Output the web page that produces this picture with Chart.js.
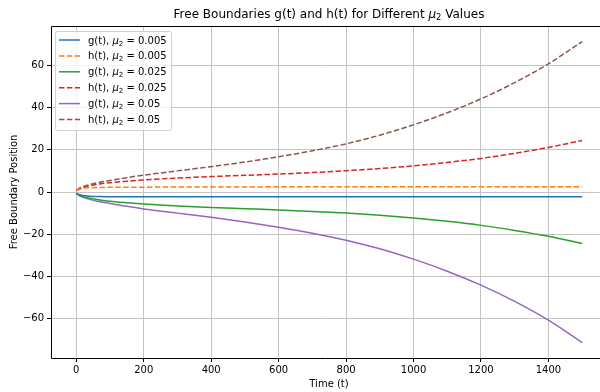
<!DOCTYPE html>
<html>
<head>
<meta charset="utf-8">
<script src="https://cdn.jsdelivr.net/npm/chart.js@4.4.1/dist/chart.umd.min.js"></script>
<style>
  html, body { margin: 0; padding: 0; background: #fff; }
  #wrap { width: 600px; height: 392px; }
</style>
</head>
<body>
<div id="wrap"><canvas id="boundaryChart" width="600" height="392"></canvas></div>
<script>
// Datos
const tiempos = [0, 5, 10, 20, 40, 70, 100, 150, 200, 300, 400, 500, 600, 700, 800, 900, 1000, 1100, 1200, 1300, 1400, 1500];

const g_005 = [-0.6, -1.0, -1.3, -1.7, -2.0, -2.15, -2.2, -2.25, -2.25, -2.3, -2.3, -2.3, -2.3, -2.3, -2.3, -2.3, -2.3, -2.3, -2.3, -2.3, -2.3, -2.3];
const h_005 = [0.6, 1.0, 1.3, 1.7, 2.0, 2.15, 2.2, 2.25, 2.3, 2.35, 2.4, 2.4, 2.45, 2.45, 2.5, 2.5, 2.5, 2.5, 2.5, 2.5, 2.5, 2.5];
const g_025 = [-0.7, -1.1, -1.6, -2.2, -3.0, -3.8, -4.4, -5.1, -5.7, -6.6, -7.3, -7.9, -8.5, -9.2, -10.0, -11.0, -12.3, -13.9, -15.8, -18.2, -21.0, -24.4];
const h_025 = [0.7, 1.1, 1.6, 2.2, 3.0, 3.8, 4.4, 5.1, 5.7, 6.6, 7.3, 7.9, 8.5, 9.2, 10.1, 11.1, 12.4, 14.0, 15.9, 18.3, 21.1, 24.4];
const g_05 = [-0.8, -1.2, -1.8, -2.5, -3.5, -4.6, -5.4, -6.8, -8.0, -10.0, -12.0, -14.2, -16.7, -19.5, -22.8, -26.9, -31.8, -37.5, -44.1, -51.8, -60.7, -71.3];
const h_05 = [0.8, 1.2, 1.8, 2.5, 3.5, 4.6, 5.4, 6.8, 8.0, 10.0, 12.0, 14.2, 16.7, 19.5, 22.8, 26.9, 31.8, 37.5, 44.1, 51.8, 60.7, 71.2];

const ticksX = [0, 200, 400, 600, 800, 1000, 1200, 1400];
const ticksY = [-60, -40, -20, 0, 20, 40, 60];

const series = [
    { nombre: 'g(t)', mu: '0.005', valores: g_005, color: '#1f77b4', dash: [] },
    { nombre: 'h(t)', mu: '0.005', valores: h_005, color: '#ff7f0e', dash: [5.5, 2.4] },
    { nombre: 'g(t)', mu: '0.025', valores: g_025, color: '#2ca02c', dash: [] },
    { nombre: 'h(t)', mu: '0.025', valores: h_025, color: '#d62728', dash: [5.5, 2.4] },
    { nombre: 'g(t)', mu: '0.05', valores: g_05, color: '#9467bd', dash: [] },
    { nombre: 'h(t)', mu: '0.05', valores: h_05, color: '#8c564b', dash: [5.5, 2.4] }
];

const FUENTE = '"DejaVu Sans", sans-serif';

// Dibuja texto con mu en cursiva y subindice 2
function textoMath(ctx, partes, x, y, size, align) {
    const medir = p => {
        ctx.font = (p.it ? 'italic ' : '') + (p.sub ? size * 0.7 : size) + 'px ' + FUENTE;
        return ctx.measureText(p.t).width;
    };
    const total = partes.reduce((s, p) => s + medir(p), 0);
    let cx = align === 'center' ? x - total / 2 : x;
    ctx.textBaseline = 'alphabetic';
    ctx.textAlign = 'left';
    partes.forEach(p => {
        const w = medir(p);
        ctx.fillText(p.t, cx, p.sub ? y + size * 0.2 : y);
        cx += w;
    });
}

const pluginMpl = {
    id: 'pluginMpl',
    afterDraw(chart) {
        const { ctx, chartArea: a } = chart;
        ctx.save();
        // ejes
        ctx.strokeStyle = '#000';
        ctx.lineWidth = 1;
        ctx.beginPath();
        ctx.moveTo(600, a.top + 0.5);
        ctx.lineTo(a.left + 0.5, a.top + 0.5);
        ctx.lineTo(a.left + 0.5, a.bottom + 0.5);
        ctx.lineTo(600, a.bottom + 0.5);
        ctx.stroke();

        ctx.fillStyle = '#000';
        // titulo
        textoMath(ctx, [{ t: 'Free Boundaries g(t) and h(t) for Different ' }, { t: 'μ', it: true }, { t: '2', sub: true }, { t: ' Values' }], 329, 18, 12, 'center');
        // etiquetas de ejes
        ctx.font = '10px ' + FUENTE;
        ctx.textAlign = 'center';
        ctx.textBaseline = 'alphabetic';
        ctx.fillText('Time (t)', 329, 387);
        ctx.save();
        ctx.translate(17, (a.top + a.bottom) / 2);
        ctx.rotate(-Math.PI / 2);
        ctx.fillText('Free Boundary Position', 0, 0);
        ctx.restore();

        // leyenda
        const lx = 55, ly = 31, lw = 116, lh = 99;
        ctx.fillStyle = 'rgba(255,255,255,0.8)';
        ctx.strokeStyle = '#d0d0d0';
        ctx.lineWidth = 1;
        ctx.beginPath();
        ctx.roundRect(lx + 0.5, ly + 0.5, lw, lh, 2);
        ctx.fill();
        ctx.stroke();
        series.forEach((s, i) => {
            const y = 40 + i * 15.9;
            ctx.strokeStyle = s.color;
            ctx.lineWidth = 1.5;
            ctx.setLineDash(s.dash);
            ctx.beginPath();
            ctx.moveTo(59, y);
            ctx.lineTo(80, y);
            ctx.stroke();
            ctx.setLineDash([]);
            ctx.fillStyle = '#000';
            textoMath(ctx, [{ t: s.nombre + ', ' }, { t: 'μ', it: true }, { t: '2', sub: true }, { t: ' = ' + s.mu }], 88, y + 3.5, 10, 'left');
        });
        ctx.restore();
    }
};

let boundaryChart;

document.addEventListener('DOMContentLoaded', function() {
    const ctx = document.getElementById('boundaryChart').getContext('2d');
    boundaryChart = new Chart(ctx, {
        type: 'line',
        data: {
            labels: tiempos,
            datasets: series.map(s => ({
                label: s.nombre + ', μ₂ = ' + s.mu,
                data: tiempos.map((t, i) => ({ x: t, y: s.valores[i] })),
                borderColor: s.color,
                borderWidth: 1.5,
                borderDash: s.dash,
                pointRadius: 0,
                fill: false,
                cubicInterpolationMode: 'monotone'
            }))
        },
        options: {
            responsive: false,
            animation: false,
            devicePixelRatio: 1,
            layout: { padding: { top: 26, left: 0, right: 0, bottom: 0 } },
            plugins: {
                legend: { display: false },
                title: { display: false },
                tooltip: { enabled: false }
            },
            scales: {
                x: {
                    type: 'linear',
                    min: -75,
                    max: 1553,
                    afterBuildTicks: scale => { scale.ticks = ticksX.map(v => ({ value: v })); },
                    afterFit: scale => { scale.height = 34; },
                    grid: { color: '#c4c4c4', lineWidth: 1, tickColor: '#000', tickLength: 4, tickWidth: 1 },
                    border: { display: false },
                    ticks: {
                        color: '#000',
                        padding: 2,
                        maxRotation: 0,
                        font: { family: FUENTE, size: 10 },
                        callback: v => String(v)
                    }
                },
                y: {
                    type: 'linear',
                    min: -78.6,
                    max: 78.6,
                    afterBuildTicks: scale => { scale.ticks = ticksY.map(v => ({ value: v })); },
                    afterFit: scale => { scale.width = 51; },
                    grid: { color: '#c4c4c4', lineWidth: 1, tickColor: '#000', tickLength: 4, tickWidth: 1 },
                    border: { display: false },
                    ticks: {
                        color: '#000',
                        padding: 3,
                        font: { family: FUENTE, size: 10 },
                        callback: v => String(v).replace('-', '\u2212')
                    }
                }
            }
        },
        plugins: [pluginMpl]
    });
});
</script>
</body>
</html>
